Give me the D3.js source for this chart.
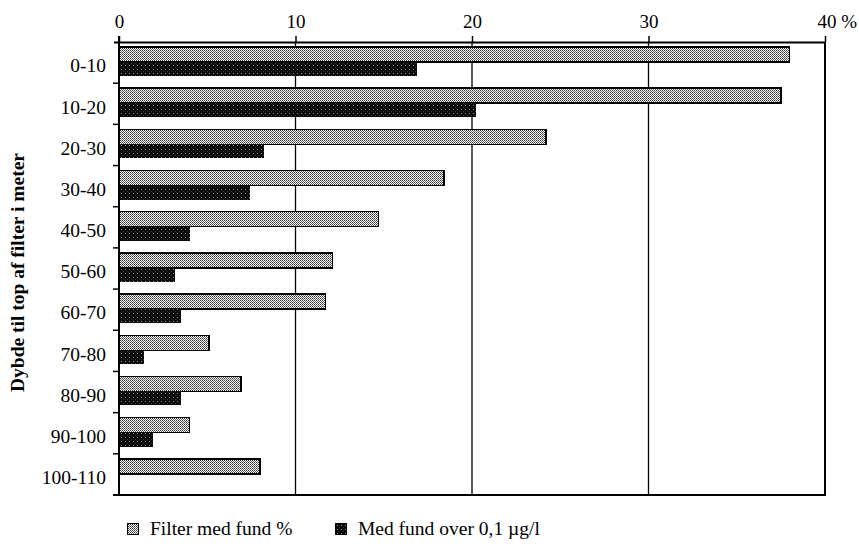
<!DOCTYPE html>
<html><head><meta charset="utf-8">
<script src="https://cdn.jsdelivr.net/npm/d3@7"></script>
<style>body{margin:0;background:#fff}svg{display:block}text{font-family:"Liberation Serif","Times New Roman",serif;fill:#000}</style>
</head><body><svg id="c" width="859" height="548"></svg>
<script>
const categories = ["0-10","10-20","20-30","30-40","40-50","50-60","60-70","70-80","80-90","90-100","100-110"];
const filterPct = [38.0, 37.5, 24.2, 18.4, 14.7, 12.1, 11.7, 5.1, 6.9, 4.0, 8.0];
const overLimit = [16.9, 20.2, 8.2, 7.4, 4.0, 3.2, 3.5, 1.4, 3.5, 1.9, 0];
const xTicks = [0, 10, 20, 30, 40];
const seriesNames = ["Filter med fund %", "Med fund over 0,1 \u00b5g/l"];
const yTitle = "Dybde til top af filter i meter";

const svg = d3.select("#c");
const L = 119, R = 825, T = 42, B = 495;
const x = d3.scaleLinear().domain([0, 40]).range([L, R]);
const y = d3.scaleBand().domain(categories).range([T, B]).paddingInner(0).paddingOuter(0);

const defs = svg.append("defs");
const p1 = defs.append("pattern").attr("id","light").attr("width",2).attr("height",2).attr("patternUnits","userSpaceOnUse");
p1.append("rect").attr("width",2).attr("height",2).attr("fill","#f8f8f8");
p1.append("rect").attr("width",1).attr("height",1).attr("fill","#333");
p1.append("rect").attr("x",1).attr("y",1).attr("width",1).attr("height",1).attr("fill","#666");
const p2 = defs.append("pattern").attr("id","dark").attr("width",4).attr("height",4).attr("patternUnits","userSpaceOnUse");
p2.append("rect").attr("width",4).attr("height",4).attr("fill","#0a0a0a");
p2.append("rect").attr("x",1).attr("y",1).attr("width",1).attr("height",1).attr("fill","#888");
p2.append("rect").attr("x",3).attr("y",3).attr("width",1).attr("height",1).attr("fill","#333");

// grid lines
svg.append("g").selectAll("line").data(xTicks.filter(d=>d>0)).join("line")
  .attr("x1",d=>x(d)).attr("x2",d=>x(d)).attr("y1",T).attr("y2",B)
  .attr("stroke","#000").attr("stroke-width",d=>d===40?2:1.3);

// bars
const bw = 15;
const g = svg.append("g").attr("shape-rendering","crispEdges");
g.selectAll(".f").data(categories).join("rect")
  .attr("x", x(0)).attr("y", d=>y(d)+5)
  .attr("width", (d,i)=>x(filterPct[i])-x(0)).attr("height", bw)
  .attr("fill","url(#light)").attr("stroke","#000").attr("stroke-width",1.5);
g.selectAll(".o").data(categories.filter((d,i)=>overLimit[i]>0)).join("rect")
  .attr("x", x(0)).attr("y", d=>y(d)+5+bw)
  .attr("width", d=>x(overLimit[categories.indexOf(d)])-x(0)).attr("height", 14)
  .attr("fill","url(#dark)");

// top axis
const topAx = svg.append("g").attr("transform",`translate(0,${T})`)
  .call(d3.axisTop(x).tickValues(xTicks).tickSize(6).tickPadding(8).tickFormat(d=>d===40?"40 %":d));
topAx.select(".domain").attr("d",`M${L-5},0.5H${R}`).attr("stroke","#000").attr("stroke-width",2);
topAx.selectAll(".tick line").attr("stroke","#000").attr("stroke-width",1.5);
topAx.selectAll(".tick text").attr("font-size",19).attr("font-family","Liberation Serif, serif").attr("fill","#000");
topAx.selectAll(".tick").filter(d=>d===40).select("text").attr("text-anchor","start").attr("dx",-8);

// left axis with ticks at band boundaries
const leftAx = svg.append("g").attr("transform",`translate(${L},0)`)
  .call(d3.axisLeft(y).tickSize(0).tickPadding(13));
leftAx.select(".domain").attr("d",`M0,${T-6}V${B}`).attr("stroke","#000").attr("stroke-width",2);
leftAx.selectAll(".tick text").attr("font-size",19.5).attr("font-family","Liberation Serif, serif").attr("fill","#000").attr("dy","0.5em");
svg.append("g").selectAll("line").data(categories.slice(1)).join("line")
  .attr("x1",L-6).attr("x2",L).attr("y1",d=>y(d)).attr("y2",d=>y(d))
  .attr("stroke","#000").attr("stroke-width",1.5);

// bottom line
svg.append("line").attr("x1",L-6).attr("x2",R+1).attr("y1",B).attr("y2",B).attr("stroke","#000").attr("stroke-width",2);

// y title
svg.append("text").attr("transform",`translate(24,${(T+B)/2+4}) rotate(-90)`)
  .attr("text-anchor","middle").attr("font-size",19.5).attr("font-weight","bold").text(yTitle);

// legend
const leg = svg.append("g").attr("shape-rendering","crispEdges");
const lx = [127, 335];
leg.selectAll("rect").data(seriesNames).join("rect")
  .attr("x",(d,i)=>lx[i]).attr("y",523).attr("width",11).attr("height",11)
  .attr("fill",(d,i)=>i===0?"url(#light)":"url(#dark)").attr("stroke","#000").attr("stroke-width",1);
svg.append("g").selectAll("text").data(seriesNames).join("text")
  .attr("x",(d,i)=>lx[i]+23).attr("y",535).attr("font-size",19.5).text(d=>d);
</script></body></html>
